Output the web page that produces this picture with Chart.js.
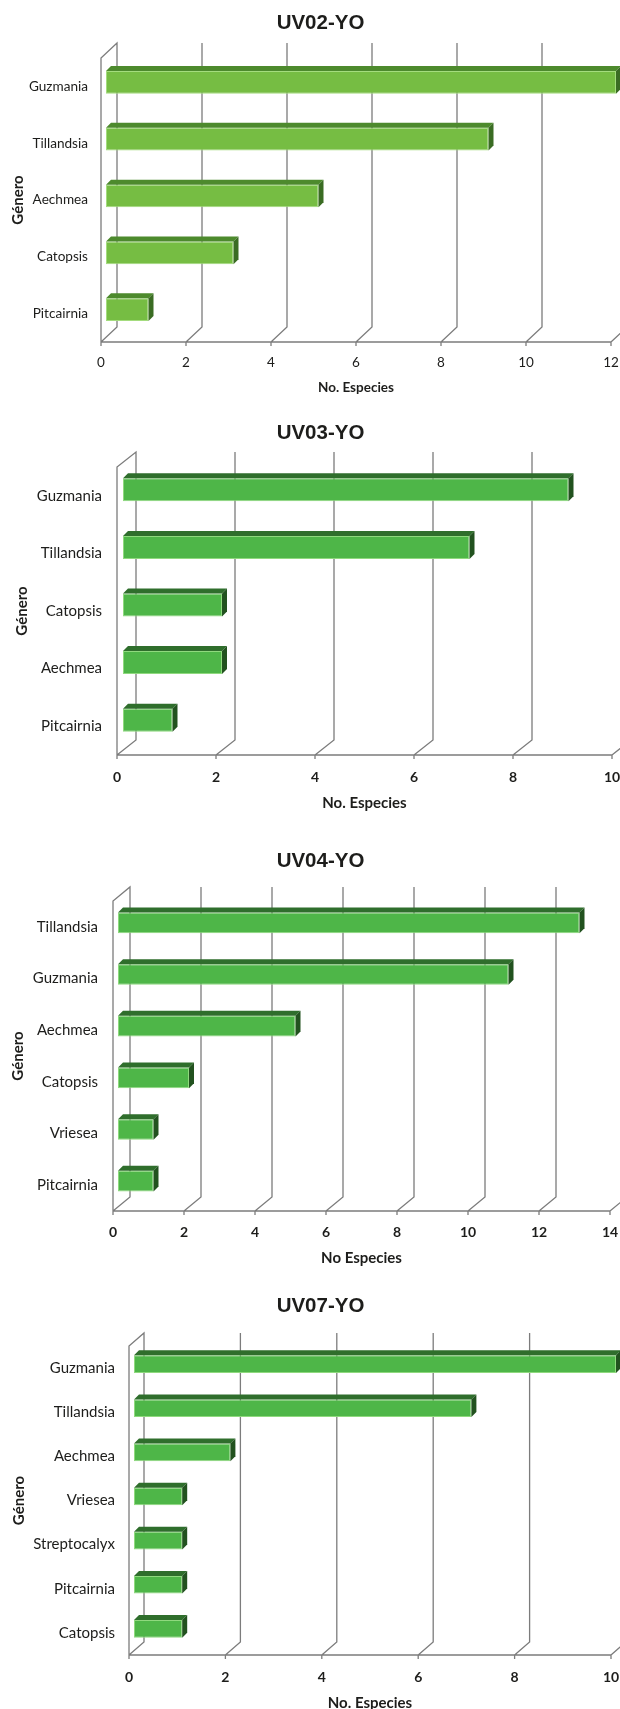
<!DOCTYPE html>
<html>
<head>
<meta charset="utf-8">
<script src="https://cdn.jsdelivr.net/npm/chart.js@4/dist/chart.umd.min.js"></script>
<style>
  html, body { margin: 0; padding: 0; background: #ffffff; }
  body { width: 620px; height: 1709px; position: relative; overflow: hidden; }
  .panel { position: absolute; left: 0; width: 620px; }
  canvas { display: block; }
  .ttl {
    position: absolute; left: 0; width: 641px; text-align: center;
    font-family: "Liberation Sans", Arial, sans-serif; font-weight: bold;
    font-size: 20.5px; line-height: 24px; height: 24px; color: #1d1d1b;
    white-space: nowrap;
  }
</style>
</head>
<body>
<div class="panel" style="top:0px"><canvas id="c1" width="620" height="410"></canvas><div class="ttl" id="t1"></div></div>
<div class="panel" style="top:410px"><canvas id="c2" width="620" height="420"></canvas><div class="ttl" id="t2"></div></div>
<div class="panel" style="top:830px"><canvas id="c3" width="620" height="440"></canvas><div class="ttl" id="t3"></div></div>
<div class="panel" style="top:1270px"><canvas id="c4" width="620" height="439"></canvas><div class="ttl" id="t4"></div></div>

<script>
// Species counts per genus for each sampling unit
const titles = ['UV02-YO', 'UV03-YO', 'UV04-YO', 'UV07-YO'];

const generaUV02 = ['Guzmania', 'Tillandsia', 'Aechmea', 'Catopsis', 'Pitcairnia'];
const especiesUV02 = [12, 9, 5, 3, 1];

const generaUV03 = ['Guzmania', 'Tillandsia', 'Catopsis', 'Aechmea', 'Pitcairnia'];
const especiesUV03 = [9, 7, 2, 2, 1];

const generaUV04 = ['Tillandsia', 'Guzmania', 'Aechmea', 'Catopsis', 'Vriesea', 'Pitcairnia'];
const especiesUV04 = [13, 11, 5, 2, 1, 1];

const generaUV07 = ['Guzmania', 'Tillandsia', 'Aechmea', 'Vriesea', 'Streptocalyx', 'Pitcairnia', 'Catopsis'];
const especiesUV07 = [10, 7, 2, 1, 1, 1, 1];

const axisMax = [12, 10, 14, 10];
const axisStep = 2;
const xTitles = ['No. Especies', 'No. Especies', 'No Especies', 'No. Especies'];
const yTitle = 'Género';

// Box geometry and styling for each panel (canvas-local pixels)
const panels = [
  { id: 'c1', tid: 't1', h: 410, L: 101, R: 611, T: 58, B: 342, titleY: 22, tickY: 363, xTitleY: 388, yTitleX: 18, gap: 13,
    catSize: 13.6, tickSize: 13.5, tickWeight: 'normal', xTitleSize: 13.5, depth: [16, 15], shift: [5, 4],
    front: '#76BD43', edge: '#A4DC7E', topC: '#4D8A2D', side: '#3A6C23' },
  { id: 'c2', tid: 't2', h: 420, L: 117, R: 612, T: 57, B: 345, titleY: 22, tickY: 367, xTitleY: 393, yTitleX: 22, gap: 15,
    catSize: 15, tickSize: 14, tickWeight: 'bold', xTitleSize: 15, depth: [19, 15], shift: [6, 6],
    front: '#4EB648', edge: '#8FD97E', topC: '#2F6E2C', side: '#22521F' },
  { id: 'c3', tid: 't3', h: 440, L: 113, R: 610, T: 71, B: 381, titleY: 30, tickY: 402, xTitleY: 428, yTitleX: 18, gap: 15,
    catSize: 15, tickSize: 14, tickWeight: 'bold', xTitleSize: 15, depth: [17, 14], shift: [5, 4],
    front: '#4EB648', edge: '#8FD97E', topC: '#2F6E2C', side: '#22521F' },
  { id: 'c4', tid: 't4', h: 439, L: 129, R: 611, T: 76, B: 385, titleY: 35, tickY: 407, xTitleY: 433, yTitleX: 19, gap: 14,
    catSize: 15, tickSize: 14, tickWeight: 'bold', xTitleSize: 15, depth: [15, 13], shift: [5, 4],
    front: '#4EB648', edge: '#8FD97E', topC: '#2F6E2C', side: '#22521F' }
];

const series = [
  [generaUV02, especiesUV02],
  [generaUV03, especiesUV03],
  [generaUV04, especiesUV04],
  [generaUV07, especiesUV07]
];

// Draws the open 3D box (side wall, back gridlines, floor edge) and gives bars a top and side face
const box3d = {
  id: 'box3d',
  beforeDatasetsDraw(chart, args, o) {
    const { ctx, chartArea: a } = chart;
    const xs = chart.scales.x;
    const [dx, dy] = o.depth;
    ctx.save();
    ctx.strokeStyle = '#7c7c7c';
    ctx.lineWidth = 1.3;
    ctx.beginPath();
    ctx.moveTo(a.left, a.bottom);
    ctx.lineTo(a.left, a.top);
    ctx.lineTo(a.left + dx, a.top - dy);
    ctx.lineTo(a.left + dx, a.bottom - dy);
    ctx.lineTo(a.left, a.bottom);
    ctx.moveTo(a.left, a.bottom);
    ctx.lineTo(xs.getPixelForValue(xs.max), a.bottom);
    xs.ticks.forEach(t => {
      const px = xs.getPixelForValue(t.value);
      if (t.value !== xs.min) {
        ctx.moveTo(px, a.bottom);
        ctx.lineTo(px + dx, a.bottom - dy);
        ctx.lineTo(px + dx, a.top - dy);
      }
      ctx.moveTo(px, a.bottom);
      ctx.lineTo(px, a.bottom + 4);
    });
    ctx.stroke();
    ctx.restore();
    // bars sit part-way into the box depth
    ctx.save();
    ctx.translate(o.shift[0], -o.shift[1]);
  },
  afterDatasetsDraw(chart, args, o) {
    const ctx = chart.ctx;
    const d = 5;
    chart.getDatasetMeta(0).data.forEach(bar => {
      const { x, y, base, height } = bar.getProps(['x', 'y', 'base', 'height'], true);
      const top = y - height / 2, bottom = y + height / 2;
      ctx.fillStyle = o.topC;
      ctx.beginPath();
      ctx.moveTo(base, top);
      ctx.lineTo(base + d, top - d);
      ctx.lineTo(x + d, top - d);
      ctx.lineTo(x, top);
      ctx.closePath();
      ctx.fill();
      ctx.fillStyle = o.side;
      ctx.beginPath();
      ctx.moveTo(x, top);
      ctx.lineTo(x + d, top - d);
      ctx.lineTo(x + d, bottom - d);
      ctx.lineTo(x, bottom);
      ctx.closePath();
      ctx.fill();
    });
    ctx.restore();
  }
};

panels.forEach((p, i) => {
  const [labels, values] = series[i];
  const xTitleLH = p.xTitleSize * 1.2;
  const yTitleLH = 15 * 1.2;

  const t = document.getElementById(p.tid);
  t.textContent = titles[i];
  t.style.top = (p.titleY - 12) + 'px';

  new Chart(document.getElementById(p.id), {
    type: 'bar',
    data: {
      labels: labels,
      datasets: [{
        data: values,
        backgroundColor: p.front,
        borderColor: p.edge,
        borderWidth: 1,
        borderSkipped: false,
        barPercentage: 0.4,
        categoryPercentage: 1,
        clip: false
      }]
    },
    options: {
      indexAxis: 'y',
      responsive: false,
      animation: false,
      devicePixelRatio: 1,
      layout: { padding: { left: 0, right: 620 - p.R, top: p.T, bottom: 0 } },
      plugins: {
        legend: { display: false },
        tooltip: { enabled: false },
        title: { display: false },
        box3d: { depth: p.depth, shift: p.shift, topC: p.topC, side: p.side }
      },
      scales: {
        x: {
          type: 'linear',
          min: 0,
          max: axisMax[i],
          grid: { display: false, drawTicks: false },
          border: { display: false },
          ticks: {
            stepSize: axisStep,
            padding: p.tickY - p.B - p.tickSize * 0.6,
            color: '#1d1d1b',
            font: { family: 'Lato, sans-serif', size: p.tickSize, weight: p.tickWeight }
          },
          title: {
            display: true,
            text: xTitles[i],
            color: '#1d1d1b',
            font: { family: 'Lato, sans-serif', size: p.xTitleSize, weight: 'bold' },
            padding: { top: 0, bottom: p.h - p.xTitleY - xTitleLH / 2 }
          },
          afterFit(s) {
            s.height = p.h - p.B;
            s.paddingLeft = 0;
            s.paddingRight = 0;
          }
        },
        y: {
          grid: { display: false, drawTicks: false },
          border: { display: false },
          ticks: {
            padding: p.gap,
            color: '#1d1d1b',
            font: { family: 'Lato, sans-serif', size: p.catSize }
          },
          title: {
            display: true,
            text: yTitle,
            color: '#1d1d1b',
            font: { family: 'Lato, sans-serif', size: 15, weight: 'bold' },
            padding: { top: p.yTitleX - yTitleLH / 2, bottom: 0 }
          },
          afterFit(s) {
            s.width = p.L;
            s.paddingTop = 0;
            s.paddingBottom = 0;
          }
        }
      }
    },
    plugins: [box3d]
  });
});
</script>
</body>
</html>
